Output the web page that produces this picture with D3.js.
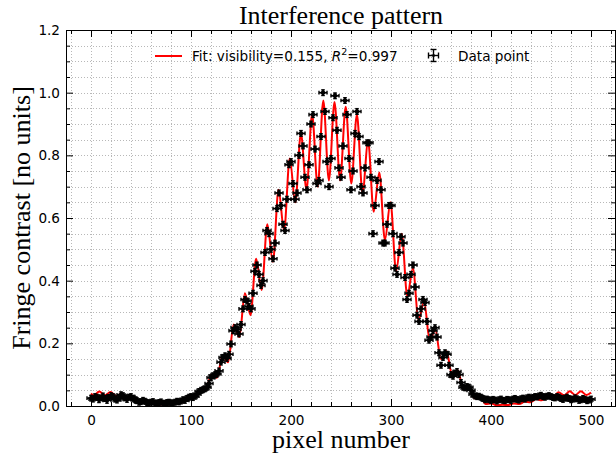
<!DOCTYPE html>
<html>
<head>
<meta charset="utf-8">
<script src="https://cdn.jsdelivr.net/npm/d3@7"></script>
<style>
  html, body { margin: 0; padding: 0; background: #fff; }
  svg { display: block; }
</style>
</head>
<body>
<svg id="chart" width="616" height="458"></svg>
<script>
// Labels and ticks
const chartTitle = "Interference pattern"
const xLabel = "pixel number"
const yLabel = "Fringe contrast [no units]"
const xTicks = [0, 100, 200, 300, 400, 500]
const yTicks = [0.0, 0.2, 0.4, 0.6, 0.8, 1.0, 1.2]

// Measured data points (pixel, contrast)
const pixel = [
  0, 2, 4, 6, 8, 10, 12, 14, 16, 18, 20, 22, 24, 26, 28, 30, 32, 34, 36, 38,
  40, 42, 44, 46, 48, 50, 52, 54, 56, 58, 60, 62, 64, 66, 68, 70, 72, 74, 76, 78,
  80, 82, 84, 86, 88, 90, 92, 94, 96, 98, 100, 102, 104, 106, 108, 110, 112, 114, 116, 118,
  120, 122, 124, 126, 128, 130, 132, 134, 136, 138, 140, 142, 144, 146, 148, 150, 152, 154, 156, 158,
  160, 162, 164, 166, 168, 170, 172, 174, 176, 178, 180, 182, 184, 186, 188, 190, 192, 194, 196, 198,
  200, 202, 204, 206, 208, 210, 212, 214, 216, 218, 220, 222, 224, 226, 228, 230, 232, 234, 236, 238,
  240, 242, 244, 246, 248, 250, 252, 254, 256, 258, 260, 262, 264, 266, 268, 270, 272, 274, 276, 278,
  280, 282, 284, 286, 288, 290, 292, 294, 296, 298, 300, 302, 304, 306, 308, 310, 312, 314, 316, 318,
  320, 322, 324, 326, 328, 330, 332, 334, 336, 338, 340, 342, 344, 346, 348, 350, 352, 354, 356, 358,
  360, 362, 364, 366, 368, 370, 372, 374, 376, 378, 380, 382, 384, 386, 388, 390, 392, 394, 396, 398,
  400, 402, 404, 406, 408, 410, 412, 414, 416, 418, 420, 422, 424, 426, 428, 430, 432, 434, 436, 438,
  440, 442, 444, 446, 448, 450, 452, 454, 456, 458, 460, 462, 464, 466, 468, 470, 472, 474, 476, 478,
  480, 482, 484, 486, 488, 490, 492, 494, 496, 498, 500
]
const contrast = [
  0.025, 0.022, 0.030, 0.028, 0.020, 0.026, 0.032, 0.024, 0.018, 0.027,
  0.033, 0.030, 0.022, 0.019, 0.025, 0.036, 0.033, 0.026, 0.021, 0.028,
  0.030, 0.025, 0.020, 0.017, 0.012, 0.014, 0.018, 0.015, 0.011, 0.009,
  0.012, 0.014, 0.010, 0.008, 0.011, 0.013, 0.009, 0.008, 0.011, 0.012,
  0.010, 0.009, 0.012, 0.015, 0.013, 0.016, 0.020, 0.018, 0.024, 0.028,
  0.030, 0.027, 0.031, 0.038, 0.046, 0.050, 0.052, 0.055, 0.060, 0.072,
  0.090, 0.096, 0.100, 0.102, 0.112, 0.140, 0.155, 0.160, 0.152, 0.165,
  0.198, 0.240, 0.250, 0.245, 0.230, 0.260, 0.310, 0.340, 0.335, 0.318,
  0.310, 0.360, 0.430, 0.450, 0.420, 0.385, 0.400, 0.490, 0.560, 0.550,
  0.500, 0.470, 0.520, 0.630, 0.680, 0.640, 0.580, 0.560, 0.660, 0.770,
  0.780, 0.710, 0.660, 0.680, 0.800, 0.870, 0.830, 0.730, 0.690, 0.770,
  0.900, 0.930, 0.820, 0.710, 0.720, 0.860, 1.000, 0.940, 0.780, 0.700,
  0.790, 0.920, 0.990, 0.880, 0.760, 0.730, 0.830, 0.975, 0.930, 0.790,
  0.690, 0.750, 0.870, 0.940, 0.860, 0.700, 0.680, 0.760, 0.840, 0.840,
  0.730, 0.550, 0.640, 0.720, 0.780, 0.690, 0.520, 0.520, 0.580, 0.640,
  0.640, 0.550, 0.440, 0.420, 0.490, 0.540, 0.520, 0.410, 0.340, 0.360,
  0.420, 0.450, 0.380, 0.290, 0.270, 0.310, 0.340, 0.330, 0.270, 0.210,
  0.220, 0.240, 0.250, 0.220, 0.170, 0.130, 0.155, 0.170, 0.165, 0.130,
  0.100, 0.095, 0.105, 0.110, 0.100, 0.075, 0.060, 0.058, 0.062, 0.060,
  0.050, 0.038, 0.032, 0.030, 0.031, 0.028, 0.024, 0.020, 0.022, 0.020,
  0.018, 0.021, 0.019, 0.016, 0.020, 0.022, 0.018, 0.017, 0.021, 0.020,
  0.018, 0.022, 0.024, 0.021, 0.019, 0.023, 0.025, 0.022, 0.026, 0.028,
  0.025, 0.027, 0.030, 0.029, 0.032, 0.034, 0.030, 0.028, 0.031, 0.033,
  0.030, 0.027, 0.026, 0.030, 0.028, 0.024, 0.021, 0.025, 0.028, 0.024,
  0.020, 0.022, 0.026, 0.023, 0.018, 0.020, 0.024, 0.021, 0.017, 0.019,
  0.022
]
const xErr = 4       // pixels
const yErr = 0.009   // contrast

// Fit curve, read at its crests and troughs
const fitPixel = [
  0, 2.7, 8.3, 13.9, 19.5, 25.1, 30.7, 36.3, 41.9, 47.5, 53.1, 58.7, 64.3, 69.9, 75.5, 81.1,
  86.7, 92.3, 97.9, 103.5, 109.1, 114.7, 120.3, 125.9, 131.5, 137.1, 142.7, 148.3, 153.9, 159.5,
  165.1, 170.7, 176.3, 181.9, 187.5, 193.1, 198.7, 204.3, 209.9, 215.5, 221.1, 226.7, 232.3, 237.9,
  243.5, 249.1, 254.7, 260.3, 265.9, 271.5, 277.1, 282.7, 288.3, 293.9, 299.5, 305.1, 310.7, 316.3,
  321.9, 327.5, 333.1, 338.7, 344.3, 349.9, 355.5, 361.1, 366.7, 372.3, 377.9, 383.5, 389.1, 394.7,
  400.3, 405.9, 411.5, 417.1, 422.7, 428.3, 433.9, 439.5, 445.1, 450.7, 456.3, 461.9, 467.5, 473.1,
  478.7, 484.3, 489.9, 495.5, 500
]
const fitContrast = [
  0.040, 0.034, 0.046, 0.034, 0.045, 0.032, 0.039, 0.025, 0.028, 0.016, 0.018, 0.009, 0.011, 0.005, 0.008, 0.005,
  0.012, 0.012, 0.028, 0.026, 0.055, 0.050, 0.100, 0.090, 0.160, 0.140, 0.260, 0.220, 0.360, 0.290,
  0.470, 0.370, 0.580, 0.460, 0.690, 0.560, 0.790, 0.650, 0.870, 0.690, 0.930, 0.700, 0.975, 0.720,
  0.970, 0.720, 0.955, 0.710, 0.930, 0.680, 0.845, 0.620, 0.745, 0.530, 0.650, 0.430, 0.550, 0.350,
  0.440, 0.275, 0.333, 0.210, 0.243, 0.150, 0.175, 0.100, 0.115, 0.055, 0.065, 0.025, 0.030, 0.006,
  0.008, 0.002, 0.004, 0.003, 0.008, 0.006, 0.014, 0.012, 0.022, 0.018, 0.032, 0.026, 0.044, 0.034,
  0.047, 0.035, 0.047, 0.035, 0.043
]

const fitLabel = "Fit: visibility=0.155, "
const fitR2 = "=0.997"
const dataLabel = "Data point"

// Layout
const plot = { left: 66, right: 616, top: 30, bottom: 406 }
const tickFont = "'DejaVu Sans', sans-serif"
const serifFont = "'Liberation Serif', 'Times New Roman', serif"

const svg = d3.select("#chart")

const x = d3.scaleLinear().domain([-25, 525]).range([plot.left, plot.right])
const y = d3.scaleLinear().domain([0, 1.2]).range([plot.bottom, plot.top])

const xMinor = d3.range(-20, 521, 20)
const yMinor = d3.range(0, 25).map(i => +(i * 0.05).toFixed(2))

svg.append("defs").append("clipPath")
  .attr("id", "clip")
  .append("rect")
  .attr("x", plot.left)
  .attr("y", plot.top)
  .attr("width", plot.right - plot.left)
  .attr("height", plot.bottom - plot.top)

// Grid (major + minor, dotted)
const grid = svg.append("g").attr("class", "grid")
grid.selectAll(".vgrid")
  .data(xMinor)
  .enter()
  .append("line")
  .attr("x1", d => Math.round(x(d)) + 0.5)
  .attr("x2", d => Math.round(x(d)) + 0.5)
  .attr("y1", plot.top)
  .attr("y2", plot.bottom)
grid.selectAll(".hgrid")
  .data(yMinor)
  .enter()
  .append("line")
  .attr("x1", plot.left)
  .attr("x2", plot.right)
  .attr("y1", d => Math.round(y(d)) + 0.5)
  .attr("y2", d => Math.round(y(d)) + 0.5)
grid.selectAll("line")
  .style("stroke", "#b8b8b8")
  .style("stroke-width", 1)
  .style("stroke-dasharray", "1,2")

// Fit line
const fitData = fitPixel.map((p, i) => ({ p, c: fitContrast[i] }))
svg.append("path")
  .datum(fitData)
  .attr("clip-path", "url(#clip)")
  .attr("d", d3.line().x(d => x(d.p)).y(d => y(d.c)).curve(d3.curveMonotoneX))
  .style("fill", "none")
  .style("stroke", "#ff0000")
  .style("stroke-width", 2)

// Data points with error bars
const data = pixel.map((p, i) => ({ p, c: contrast[i] }))
const points = svg.append("g")
  .attr("clip-path", "url(#clip)")
  .selectAll(".point")
  .data(data)
  .enter()
  .append("g")
  .attr("class", "point")
  .attr("transform", d => `translate(${x(d.p)},${y(d.c)})`)

function drawErrorbar(g, hx, hy, cap, r) {
  g.append("line").attr("x1", -hx).attr("x2", hx).attr("y1", 0).attr("y2", 0)
  g.append("line").attr("x1", 0).attr("x2", 0).attr("y1", -hy).attr("y2", hy)
  g.append("line").attr("x1", -cap).attr("x2", cap).attr("y1", -hy).attr("y2", -hy)
  g.append("line").attr("x1", -cap).attr("x2", cap).attr("y1", hy).attr("y2", hy)
  g.append("line").attr("x1", -hx).attr("x2", -hx).attr("y1", -cap).attr("y2", cap)
  g.append("line").attr("x1", hx).attr("x2", hx).attr("y1", -cap).attr("y2", cap)
  g.selectAll("line")
    .style("stroke", "#000")
    .style("stroke-width", 1.4)
  // diamond marker
  g.append("path")
    .attr("d", `M0,${-r}L${r},0L0,${r}L${-r},0Z`)
    .style("fill", "#000")
}

const hx = x(xErr) - x(0)
const hy = y(0) - y(yErr)
points.each(function() {
  drawErrorbar(d3.select(this), hx, hy, 1.8, 3.2)
})

// Axes: inward ticks on all four sides
function styleAxis(g) {
  g.select(".domain").remove()
  g.selectAll(".tick line").style("stroke", "#000").style("stroke-width", 1)
  g.selectAll(".tick text")
    .style("font-family", tickFont)
    .style("font-size", "13.6px")
    .style("fill", "#000")
}

const xMinorOnly = xMinor.filter(v => !xTicks.includes(v))
const yMinorOnly = yMinor.filter(v => !yTicks.some(t => Math.abs(t - v) < 1e-9))

svg.append("g")
  .attr("transform", `translate(0,${plot.bottom})`)
  .call(d3.axisBottom(x).tickValues(xTicks).tickSize(-7).tickPadding(9).tickFormat(d3.format("d")))
  .call(styleAxis)
svg.append("g")
  .attr("transform", `translate(0,${plot.bottom})`)
  .call(d3.axisBottom(x).tickValues(xMinorOnly).tickSize(-4).tickFormat(""))
  .call(styleAxis)
svg.append("g")
  .attr("transform", `translate(0,${plot.top})`)
  .call(d3.axisTop(x).tickValues(xTicks).tickSize(-7).tickFormat(""))
  .call(styleAxis)
svg.append("g")
  .attr("transform", `translate(0,${plot.top})`)
  .call(d3.axisTop(x).tickValues(xMinorOnly).tickSize(-4).tickFormat(""))
  .call(styleAxis)

svg.append("g")
  .attr("transform", `translate(${plot.left},0)`)
  .call(d3.axisLeft(y).tickValues(yTicks).tickSize(-7).tickPadding(6).tickFormat(d3.format(".1f")))
  .call(styleAxis)
svg.append("g")
  .attr("transform", `translate(${plot.left},0)`)
  .call(d3.axisLeft(y).tickValues(yMinorOnly).tickSize(-4).tickFormat(""))
  .call(styleAxis)
svg.append("g")
  .attr("transform", `translate(${plot.right - 1},0)`)
  .call(d3.axisRight(y).tickValues(yTicks).tickSize(-7).tickFormat(""))
  .call(styleAxis)
svg.append("g")
  .attr("transform", `translate(${plot.right - 1},0)`)
  .call(d3.axisRight(y).tickValues(yMinorOnly).tickSize(-4).tickFormat(""))
  .call(styleAxis)

// Frame
svg.append("rect")
  .attr("x", plot.left + 0.5)
  .attr("y", plot.top + 0.5)
  .attr("width", plot.right - plot.left - 1)
  .attr("height", plot.bottom - plot.top)
  .style("fill", "none")
  .style("stroke", "#000")
  .style("stroke-width", 1)

// Title and axis labels
svg.append("text")
  .attr("x", (plot.left + plot.right) / 2)
  .attr("y", 24)
  .attr("text-anchor", "middle")
  .style("font-family", serifFont)
  .style("font-size", "26px")
  .text(chartTitle)

svg.append("text")
  .attr("x", (plot.left + plot.right) / 2)
  .attr("y", 448)
  .attr("text-anchor", "middle")
  .style("font-family", serifFont)
  .style("font-size", "26px")
  .text(xLabel)

svg.append("text")
  .attr("transform", `translate(30,${(plot.top + plot.bottom) / 2}) rotate(-90)`)
  .attr("text-anchor", "middle")
  .style("font-family", serifFont)
  .style("font-size", "26px")
  .text(yLabel)

// Legend (no frame)
const legend = svg.append("g").attr("class", "legend")
legend.append("line")
  .attr("x1", 155).attr("x2", 182)
  .attr("y1", 56).attr("y2", 56)
  .style("stroke", "#ff0000")
  .style("stroke-width", 2)

const fitText = legend.append("text")
  .attr("x", 192)
  .attr("y", 61)
  .style("font-family", tickFont)
  .style("font-size", "13.6px")
fitText.append("tspan").text(fitLabel)
fitText.append("tspan").style("font-style", "italic").text("R")
fitText.append("tspan").attr("dy", -6).style("font-size", "9.5px").text("2")
fitText.append("tspan").attr("dy", 6).text(fitR2)

const legendMark = legend.append("g").attr("transform", "translate(433.5,55.5)")
drawErrorbar(legendMark, 5, 6, 3, 2)

legend.append("text")
  .attr("x", 458)
  .attr("y", 61)
  .style("font-family", tickFont)
  .style("font-size", "13.6px")
  .text(dataLabel)
</script>
</body>
</html>
